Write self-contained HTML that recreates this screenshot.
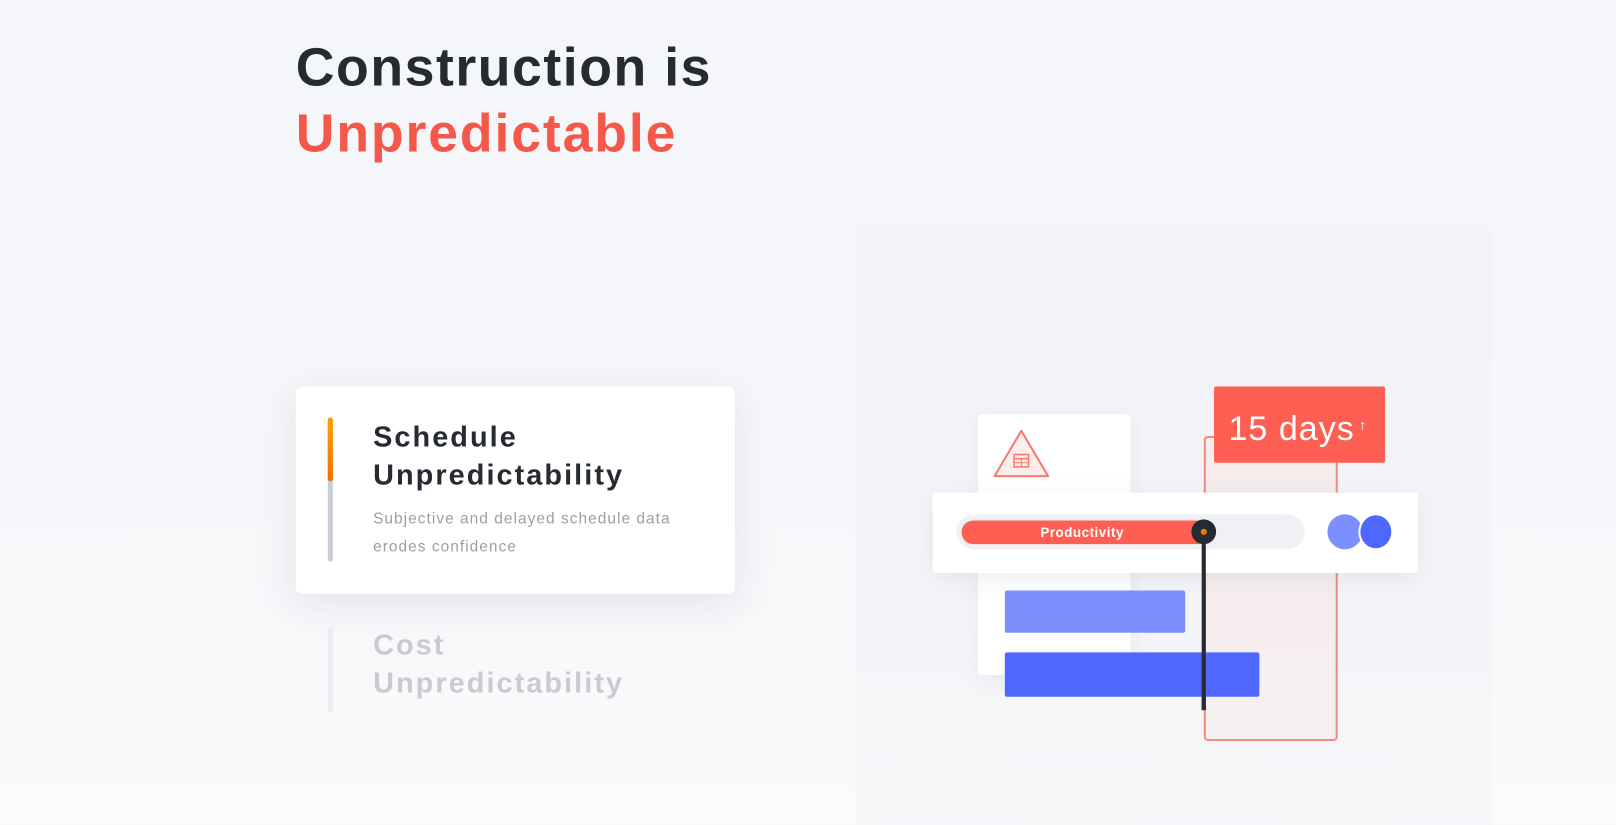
<!DOCTYPE html>
<html><head><style>
html,body{margin:0;padding:0;width:1616px;height:825px;overflow:hidden;background:#f5f6fa}
#w{position:absolute;left:0;top:0;width:1568px;height:800px;transform:scale(1.03061);transform-origin:0 0;font-family:"Liberation Sans",sans-serif;background:linear-gradient(180deg,#f4f6f9 0%,#f6f7fa 60%,#fbfbfc 100%)}
.a{position:absolute}
h1{position:absolute;left:287px;top:34px;margin:0;font-size:52px;line-height:64px;font-weight:bold;color:#262a33;letter-spacing:1.5px}
h1 span{color:#f5584a;letter-spacing:1.8px}
</style></head><body><div id="w">
<div class="a" style="left:830px;top:222px;width:618px;height:578px;background:linear-gradient(180deg,#f3f4f7,#f4f5f8 70%,#f6f7f9)"></div>
<h1>Construction is<br><span>Unpredictable</span></h1>

<div class="a" style="left:287px;top:375px;width:426px;height:201px;background:#fff;border-radius:6px;box-shadow:0 10px 40px rgba(40,50,80,0.10)"></div>
<div class="a" style="left:318px;top:405px;width:5px;height:140px;background:#c9ced6;border-radius:3px"></div>
<div class="a" style="left:318px;top:405px;width:5px;height:62px;background:linear-gradient(#f7a500,#f76b00);border-radius:3px"></div>
<div class="a" style="left:362px;top:405px;font-size:28px;line-height:37px;font-weight:bold;color:#262a33;letter-spacing:2px">Schedule<br>Unpredictability</div>
<div class="a" style="left:362px;top:490px;font-size:15px;line-height:27px;color:#9a9ea6;letter-spacing:1px">Subjective and delayed schedule data<br>erodes confidence</div>
<div class="a" style="left:318px;top:608px;width:5px;height:83px;background:#eceef2"></div>
<div class="a" style="left:362px;top:607px;font-size:28px;line-height:37px;font-weight:bold;color:#c9cbd0;letter-spacing:2px">Cost<br>Unpredictability</div>

<div class="a" style="left:949px;top:402px;width:148px;height:253px;background:#fff;border-radius:3px;box-shadow:0 4px 20px rgba(40,50,80,0.06)"></div>
<svg class="a" style="left:963px;top:415px" width="58" height="50"><polygon points="28,3 54,47 2,47" fill="#fdeeed" stroke="#f77a70" stroke-width="2" stroke-linejoin="round"/><rect x="21" y="26" width="14" height="12" fill="none" stroke="#f77a70" stroke-width="1.5"/><line x1="21" y1="30" x2="35" y2="30" stroke="#f77a70" stroke-width="1.5"/><line x1="28" y1="30" x2="28" y2="38" stroke="#f77a70"/><line x1="21" y1="34" x2="35" y2="34" stroke="#f77a70"/></svg>
<div class="a" style="left:1168px;top:423px;width:126px;height:292px;border:2px solid #f58a80;border-radius:4px;background:linear-gradient(180deg,#f5ecec,#f6eeee 60%,#f4f0f1)"></div>
<div class="a" style="left:1178px;top:375px;width:166px;height:74px;background:#ff5f52;border-radius:2px;color:#fff;font-size:33px;line-height:74px;padding-left:14px;box-sizing:border-box;letter-spacing:1px;white-space:nowrap">15 days<span style="font-size:14px;vertical-align:10px;margin-left:4px">↑</span></div>
<div class="a" style="left:905px;top:478px;width:471px;height:78px;background:#fff;border-radius:3px;box-shadow:0 6px 24px rgba(40,50,80,0.08)"></div>
<div class="a" style="left:928px;top:499px;width:338px;height:34px;background:#f0f1f4;border-radius:17px"></div>
<div class="a" style="left:933px;top:505px;width:240px;height:23px;background:#ff5f52;border-radius:12px;color:#fff;font-size:13px;font-weight:bold;line-height:23px;text-align:center;box-sizing:border-box;padding-right:6px;letter-spacing:0.5px">Productivity</div>
<div class="a" style="left:1166px;top:516px;width:4px;height:173px;background:#262a33"></div>
<div class="a" style="left:1156px;top:504px;width:24px;height:24px;background:#262a33;border-radius:50%"></div>
<div class="a" style="left:1165px;top:513px;width:6px;height:6px;background:#f77a00;border-radius:50%"></div>
<div class="a" style="left:1288px;top:499px;width:34px;height:34px;background:#7b8fff;border-radius:50%"></div>
<div class="a" style="left:1318px;top:498px;width:34px;height:36px;background:#5067ff;border-radius:50%;box-sizing:border-box;border:2px solid #fff"></div>
<div class="a" style="left:975px;top:573px;width:175px;height:41px;background:#7b8fff;border-radius:2px"></div>
<div class="a" style="left:975px;top:633px;width:247px;height:43px;background:#5067ff;border-radius:2px"></div>
<div class="a" style="left:1166px;top:633px;width:4px;height:56px;background:#262a33"></div>
</div></body></html>
